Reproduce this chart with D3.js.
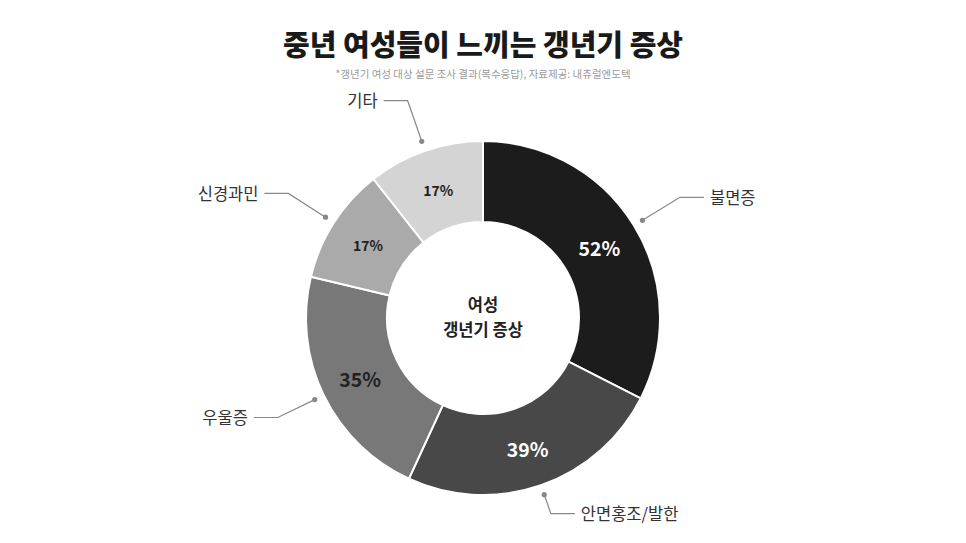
<!DOCTYPE html>
<html>
<head>
<meta charset="utf-8">
<script src="https://cdn.jsdelivr.net/npm/d3@7"></script>
<style>
  body { margin: 0; background: #fff; }
  svg { font-family: "Noto Sans CJK KR", "Noto Sans", sans-serif; }
</style>
</head>
<body>
<svg id="chart" width="966" height="543"></svg>
<script>
  // data
  var categories = ["불면증", "안면홍조/발한", "우울증", "신경과민", "기타"];
  var values = [52, 39, 35, 17, 17];
  var colors = ["#1c1c1c", "#484848", "#787878", "#aaaaaa", "#d4d4d4"];
  var pctColors = ["#fff", "#fff", "#222", "#222", "#222"];
  var pctSizes = [19.5, 19.5, 19.5, 14, 14];
  var elbowR = [231, 207, 228, 231, 230];

  var svg = d3.select("#chart");
  var cx = 483, cy = 318;
  var outerR = 177, innerR = 96;

  // title
  svg.append("text")
    .attr("x", cx).attr("y", 56)
    .attr("text-anchor", "middle")
    .style("font-size", "29px")
    .style("font-weight", "900")
    .style("fill", "#1a1a1a")
    .text("중년 여성들이 느끼는 갱년기 증상");

  svg.append("text")
    .attr("x", cx).attr("y", 78)
    .attr("text-anchor", "middle")
    .style("font-size", "10.5px")
    .style("fill", "#9a9a9a")
    .text("*갱년기 여성 대상 설문 조사 결과(복수응답), 자료제공: 내츄럴엔도텍");

  var pie = d3.pie().sort(null).value(function(d) { return d; });
  var arcs = pie(values);
  var arc = d3.arc().innerRadius(innerR).outerRadius(outerR);

  var g = svg.append("g").attr("transform", "translate(" + cx + "," + cy + ")");

  g.selectAll("path.slice").data(arcs).enter()
    .append("path")
      .attr("class", "slice")
      .attr("d", arc)
      .attr("fill", function(d, i) { return colors[i]; })
      .attr("stroke", "#fff")
      .attr("stroke-width", 2);

  // percent labels
  g.selectAll("text.pct").data(arcs).enter()
    .append("text")
      .attr("class", "pct")
      .attr("transform", function(d) { return "translate(" + arc.centroid(d) + ")"; })
      .attr("text-anchor", "middle")
      .attr("dy", "0.5em")
      .style("font-weight", "bold")
      .style("font-size", function(d, i) { return pctSizes[i] + "px"; })
      .style("fill", function(d, i) { return pctColors[i]; })
      .text(function(d) { return d.data + "%"; });

  // leader lines + category labels
  function pt(a, r) { return [r * Math.sin(a), -r * Math.cos(a)]; }

  arcs.forEach(function(d, i) {
    var mid = (d.startAngle + d.endAngle) / 2;
    var right = Math.sin(mid) > 0;
    var p1 = pt(mid, 187);
    var p2 = pt(mid, elbowR[i]);
    var p3 = [p2[0] + (right ? 24 : -24), p2[1]];

    g.append("polyline")
      .attr("points", [p1, p2, p3].map(function(p) { return p.join(","); }).join(" "))
      .attr("fill", "none")
      .attr("stroke", "#888")
      .attr("stroke-width", 1.2);

    g.append("circle")
      .attr("cx", p1[0]).attr("cy", p1[1])
      .attr("r", 2.6)
      .attr("fill", "#888");

    g.append("text")
      .attr("x", p3[0] + (right ? 6 : -6))
      .attr("y", p3[1])
      .attr("dy", "0.38em")
      .attr("text-anchor", right ? "start" : "end")
      .style("font-size", "16.5px")
      .style("fill", "#333")
      .text(categories[i]);
  });

  // centre text
  g.append("text")
    .attr("y", -13).attr("dy", "0.38em")
    .attr("text-anchor", "middle")
    .style("font-size", "16.5px").style("font-weight", "bold").style("fill", "#222")
    .text("여성");
  g.append("text")
    .attr("y", 12).attr("dy", "0.38em")
    .attr("text-anchor", "middle")
    .style("font-size", "16.5px").style("font-weight", "bold").style("fill", "#222")
    .text("갱년기 증상");
</script>
</body>
</html>
